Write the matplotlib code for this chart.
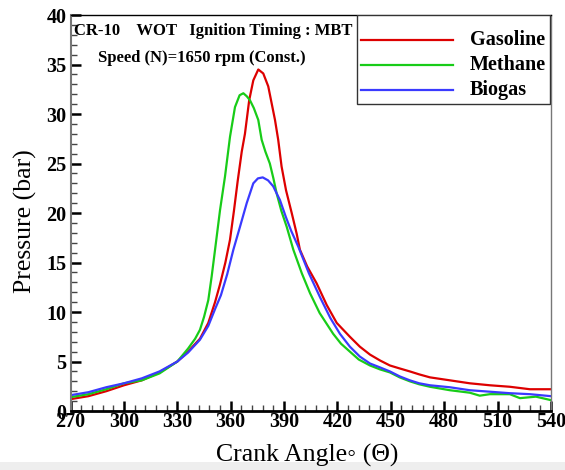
import matplotlib
matplotlib.use("Agg")
import matplotlib.pyplot as plt
from matplotlib.ticker import MultipleLocator
from matplotlib.patches import Rectangle

# Crank angle (deg) and cylinder pressure (bar) for each fuel
gasoline_angle = [270, 280, 290, 300, 310, 320, 330, 336, 342.7, 347.4, 351.2, 354,
                  357, 359.6, 361.8, 363.9, 366.2, 368, 370.4, 372.7, 375.5, 378.3,
                  381.1, 383, 384.9, 386.7, 388.6, 391.1, 394.3, 397.1, 398.9, 403,
                  408.3, 414, 419.6, 427, 432.6, 438.3, 444, 449.5, 455, 460.7, 466,
                  472, 483.2, 494.4, 505.7, 516.9, 528.2, 540]
gasoline_p = [1.2, 1.5, 2.0, 2.6, 3.1, 3.9, 5.0, 6.0, 7.3, 8.9, 11.0, 12.8,
              15.0, 17.3, 20.2, 23.2, 26.2, 28.0, 31.4, 33.4, 34.5, 34.1,
              32.8, 31.1, 29.4, 27.4, 24.7, 22.3, 20.0, 17.9, 16.3, 14.6,
              12.9, 10.7, 8.9, 7.5, 6.5, 5.7, 5.1, 4.6, 4.3, 4.0, 3.7,
              3.4, 3.1, 2.8, 2.6, 2.45, 2.2, 2.2]

methane_angle = [270, 280, 290, 300, 310, 320, 330, 336, 340, 342.7, 345, 347.4,
                 349.3, 351.2, 354, 356.8, 359.6, 362.4, 365, 367.1, 369, 370.8,
                 373, 375.5, 377.4, 379.5, 382, 384, 385.8, 388.5, 391.5, 395.2,
                 400, 404.6, 410, 417.6, 422, 427, 432, 438.3, 444, 449.5, 455,
                 460.7, 466, 472, 483.2, 494.4, 500, 505.7, 516.9, 522.6, 531.6, 540]
methane_p = [1.4, 1.7, 2.2, 2.8, 3.1, 3.8, 5.0, 6.3, 7.3, 8.2, 9.5, 11.2,
             13.6, 16.3, 20.3, 23.7, 27.7, 30.7, 31.9, 32.1, 31.8, 31.4,
             30.6, 29.4, 27.4, 26.2, 25.0, 23.5, 22.0, 20.2, 18.6, 16.3,
             13.9, 11.9, 9.9, 7.8, 6.8, 6.0, 5.2, 4.6, 4.2, 3.9, 3.4,
             3.0, 2.7, 2.45, 2.1, 1.85, 1.55, 1.7, 1.7, 1.3, 1.45, 1.1]

biogas_angle = [270, 280, 290, 300, 310, 320, 330, 336, 342.7, 347.4, 351.2, 354.5,
                358, 361.5, 365.2, 369, 372.7, 375.3, 378, 381, 383.9, 387.7,
                391, 394, 398, 404, 410.2, 416, 421.4, 427, 432.6, 438.3, 444,
                449.5, 455, 460.7, 466, 472, 483.2, 494.4, 505.7, 516.9, 528.2, 540]
biogas_p = [1.6, 1.9, 2.4, 2.8, 3.3, 4.0, 5.0, 5.9, 7.2, 8.6, 10.3, 11.7,
            13.8, 16.3, 18.6, 21.0, 23.0, 23.5, 23.6, 23.3, 22.7, 21.3,
            19.6, 18.2, 16.6, 13.9, 11.5, 9.4, 7.8, 6.5, 5.5, 4.8, 4.4,
            4.0, 3.5, 3.1, 2.8, 2.6, 2.4, 2.1, 1.95, 1.8, 1.7, 1.5]

series_names = ["Gasoline", "Methane", "Biogas"]
series_colors = ["#dd0000", "#18cc18", "#3a3aff"]

x_ticks = [270, 300, 330, 360, 390, 420, 450, 480, 510, 540]
y_ticks = [0, 5, 10, 15, 20, 25, 30, 35, 40]

serif = ["Liberation Serif", "DejaVu Serif"]

fig = plt.figure(figsize=(5.65, 4.7), dpi=100)
ax = fig.add_axes([0.125, 0.1255, 0.85, 0.8425])

# faint grey strip along the bottom edge of the sheet, kept behind everything
fig.patches.append(Rectangle((0.0, 0.0), 1.0, 0.018, transform=fig.transFigure,
                             facecolor="#eeeeee", edgecolor="none", zorder=-5))

lines = []
for xs, ys, name, color in zip([gasoline_angle, methane_angle, biogas_angle],
                               [gasoline_p, methane_p, biogas_p],
                               series_names, series_colors):
    ln, = ax.plot(xs, ys, color=color, lw=1.6, label=name)
    lines.append(ln)

ax.set_xlim(270, 540)
ax.set_ylim(0, 40)
ax.set_xticks(x_ticks)
ax.set_yticks(y_ticks)
ax.xaxis.set_minor_locator(MultipleLocator(6))
ax.yaxis.set_minor_locator(MultipleLocator(1))
ax.tick_params(axis="x", which="major", pad=1)
ax.tick_params(axis="y", which="major", pad=3)
ax.tick_params(which="major", direction="in", length=7, width=1.8, color="black",
               top=False, right=False)
ax.tick_params(which="minor", direction="in", length=4, width=1.0, color="#444444",
               top=False, right=False)
for lbl in ax.get_xticklabels() + ax.get_yticklabels():
    lbl.set_fontfamily(serif)
    lbl.set_fontweight("bold")
    lbl.set_fontsize(14.5)

ax.spines["left"].set_color("#777777")
ax.spines["left"].set_linewidth(1.5)
ax.spines["bottom"].set_color("black")
ax.spines["bottom"].set_linewidth(2.0)
ax.spines["top"].set_color("black")
ax.spines["top"].set_linewidth(1.0)
ax.spines["right"].set_color("#777777")
ax.spines["right"].set_linewidth(1.0)

ax.set_xlabel("Crank Angle\u25e6 (\u0398)", fontfamily=serif, fontsize=18.5)
ax.xaxis.set_label_coords(0.493, -0.082)
ax.set_ylabel("Pressure (bar)", fontfamily=serif, fontsize=18.5)
ax.yaxis.set_label_coords(-0.071, 0.48)

ax.text(0.006, 0.979, "CR-10    WOT   Ignition Timing : MBT", transform=ax.transAxes,
        fontfamily=serif, fontweight="bold", fontsize=12, ha="left", va="top")
ax.text(0.058, 0.911, "Speed (N)=1650 rpm (Const.)", transform=ax.transAxes,
        fontfamily=serif, fontweight="bold", fontsize=12, ha="left", va="top")

# legend box in the upper-right corner of the axes
ax.add_patch(Rectangle((0.596, 0.775), 0.402, 0.225, transform=ax.transAxes,
                       facecolor="white", edgecolor="#333333", lw=1.0, zorder=5))
row_y = [0.937, 0.874, 0.811]
for ln, name, yy in zip(lines, series_names, row_y):
    ax.plot([0.605, 0.796], [yy, yy], transform=ax.transAxes, color=ln.get_color(),
            lw=1.6, zorder=6)
    ax.text(0.831, yy, name, transform=ax.transAxes, fontfamily=serif,
            fontweight="bold", fontsize=14.5, ha="left", va="center", zorder=6)

fig.savefig("out.png", dpi=100)
